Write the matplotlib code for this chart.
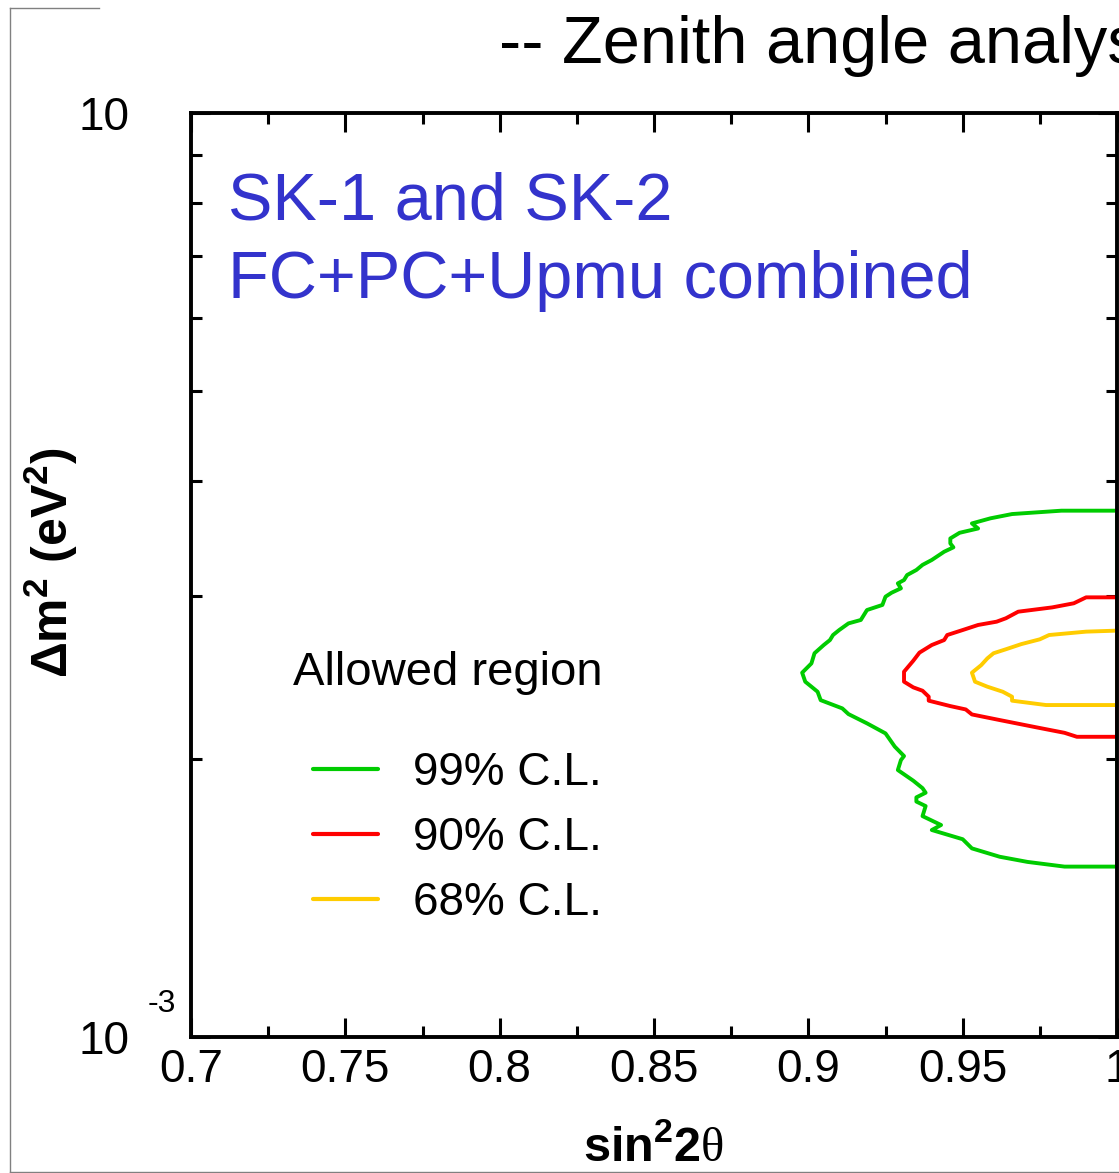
import numpy as np
import matplotlib
matplotlib.use('Agg')
import matplotlib.pyplot as plt
from matplotlib.lines import Line2D
from matplotlib.ticker import LogLocator, MultipleLocator, NullFormatter

plt.rcParams['font.family'] = ['Liberation Sans', 'DejaVu Sans']
plt.rcParams['mathtext.fontset'] = 'custom'
plt.rcParams['mathtext.rm'] = 'Liberation Serif'
plt.rcParams['mathtext.bf'] = 'Liberation Sans:bold'
plt.rcParams['mathtext.it'] = 'Liberation Sans:italic'

# --- allowed regions: sin^2(2theta) vs dm^2 [1e-3 eV^2] ---
# each contour is closed along sin^2(2theta) = 1
s2t_99 = [1.000, 0.982, 0.966, 0.959, 0.953, 0.955, 0.949, 0.946, 0.946, 0.947,
          0.944, 0.940, 0.937, 0.935, 0.932, 0.931, 0.929, 0.930, 0.927, 0.925,
          0.924, 0.919, 0.917, 0.913, 0.910, 0.908, 0.907, 0.905, 0.902, 0.901,
          0.898, 0.899, 0.901, 0.903, 0.904, 0.911, 0.913, 0.919, 0.925, 0.928,
          0.931, 0.930, 0.929, 0.934, 0.937, 0.938, 0.935, 0.935, 0.938, 0.937,
          0.943, 0.940, 0.950, 0.953, 0.962, 0.971, 0.983, 1.000, 1.000]
dm2_99 = [3.712, 3.712, 3.681, 3.642, 3.596, 3.551, 3.513, 3.464, 3.421, 3.388,
          3.351, 3.283, 3.243, 3.202, 3.162, 3.123, 3.097, 3.059, 3.026, 2.996,
          2.935, 2.898, 2.827, 2.803, 2.757, 2.723, 2.689, 2.656, 2.602, 2.537,
          2.479, 2.424, 2.394, 2.364, 2.315, 2.268, 2.236, 2.185, 2.131, 2.062,
          2.014, 1.994, 1.945, 1.894, 1.859, 1.838, 1.817, 1.798, 1.778, 1.734,
          1.696, 1.675, 1.637, 1.600, 1.567, 1.547, 1.529, 1.529, 3.712]

s2t_90 = [1.000, 0.990, 0.986, 0.979, 0.968, 0.964, 0.961, 0.955, 0.950, 0.945,
          0.944, 0.940, 0.936, 0.934, 0.931, 0.931, 0.934, 0.937, 0.939, 0.939,
          0.946, 0.951, 0.953, 0.962, 0.974, 0.983, 0.987, 1.000, 1.000]
dm2_90 = [2.991, 2.991, 2.947, 2.917, 2.886, 2.839, 2.815, 2.792, 2.757, 2.723,
          2.689, 2.656, 2.606, 2.554, 2.485, 2.424, 2.390, 2.370, 2.335, 2.312,
          2.281, 2.262, 2.234, 2.203, 2.163, 2.134, 2.113, 2.113, 2.991]

s2t_68 = [1.000, 0.990, 0.978, 0.975, 0.969, 0.964, 0.960, 0.958, 0.956, 0.953,
          0.954, 0.958, 0.963, 0.966, 0.966, 0.977, 1.000, 1.000]
dm2_68 = [2.753, 2.746, 2.723, 2.694, 2.662, 2.628, 2.602, 2.569, 2.526, 2.479,
          2.424, 2.394, 2.364, 2.335, 2.312, 2.287, 2.287, 2.753]

levels = ['99% C.L.', '90% C.L.', '68% C.L.']
colors = ['#00cc00', '#ff0000', '#ffcc00']
contours = [(s2t_99, dm2_99), (s2t_90, dm2_90), (s2t_68, dm2_68)]

x_ticks = [0.7, 0.75, 0.8, 0.85, 0.9, 0.95, 1.0]
x_ticklabels = ['0.7', '0.75', '0.8', '0.85', '0.9', '0.95', '1']
y_ticks = [1e-3, 1e-2]
y_ticklabels = ['10', '10']

W, H = 1119, 1173
fig = plt.figure(figsize=(W / 100, H / 100), dpi=100)


def fx(px):
    return px / W


def fy(py):
    return 1 - py / H


ax = fig.add_axes([fx(191), fy(1037), (1117 - 191) / W, (1037 - 113) / H])
ax.set_yscale('log')
ax.set_xlim(0.7, 1.0)
ax.set_ylim(1e-3, 1e-2)

handles = []
for (s, m), lab, c in zip(contours, levels, colors):
    line, = ax.plot(s, np.array(m) * 1e-3, color=c, lw=2.8, label=lab,
                    solid_joinstyle='round', solid_capstyle='round')
    handles.append(line)

# --- axes style ---
for sp in ax.spines.values():
    sp.set_linewidth(2.8)
ax.set_xticks(x_ticks, labels=x_ticklabels)
ax.xaxis.set_minor_locator(MultipleLocator(0.025))
ax.set_yticks(y_ticks, labels=y_ticklabels)
ax.yaxis.set_minor_locator(LogLocator(base=10, subs=np.arange(2, 10)))
ax.yaxis.set_minor_formatter(NullFormatter())
ax.tick_params(which='both', direction='in', top=True, right=True, width=2.2)
ax.tick_params(which='major', length=14)
ax.tick_params(which='minor', length=8)
ax.tick_params(axis='x', which='major', labelsize=33, pad=8)
ax.tick_params(axis='y', which='major', labelsize=33, pad=44)

ax.annotate('-3', xy=(0, 1e-3), xycoords=ax.get_yaxis_transform(),
            xytext=(-31, 18), textcoords='offset points',
            ha='left', va='baseline', fontsize=23)

ax.set_xlabel('sin$^{\\mathbf{2}}$2$\\mathrm{\\theta}$', fontsize=35,
              fontweight='bold')
ax.xaxis.set_label_coords(0.5, -0.095)
ax.set_ylabel('\u0394m$^{\\mathbf{2}}$ (eV$^{\\mathbf{2}}$)', fontsize=36,
              fontweight='bold')
ax.yaxis.set_label_coords(-0.12, 0.513)

# --- annotations ---
fig.text(fx(228), fy(220), 'SK-1 and SK-2', fontsize=48, color='#3333cc',
         va='baseline')
fig.text(fx(228), fy(298), 'FC+PC+Upmu combined', fontsize=48,
         color='#3333cc', va='baseline')
fig.text(fx(293), fy(685), 'Allowed region', fontsize=34, va='baseline')

leg = ax.legend(handles=handles, loc='upper left',
                bbox_to_anchor=(fx(313), fy(751)), bbox_transform=fig.transFigure,
                frameon=False, fontsize=33, borderpad=0, borderaxespad=0,
                handlelength=1.42, handletextpad=0.76, labelspacing=0.455)
for h in leg.legend_handles:
    h.set_linewidth(3)
    h.set_solid_capstyle('round')

fig.text(fx(499), fy(63), '-- Zenith angle analysis --', fontsize=48,
         va='baseline')

# gray page frame
frame = dict(color='#808080', lw=1.0, transform=fig.transFigure)
fig.add_artist(Line2D([fx(10), fx(10)], [fy(8), fy(1172)], **frame))
fig.add_artist(Line2D([fx(10), fx(99)], [fy(8), fy(8)], **frame))
fig.add_artist(Line2D([fx(10), fx(W)], [fy(1171.5), fy(1171.5)], **frame))

fig.savefig('out.png', dpi=100)
